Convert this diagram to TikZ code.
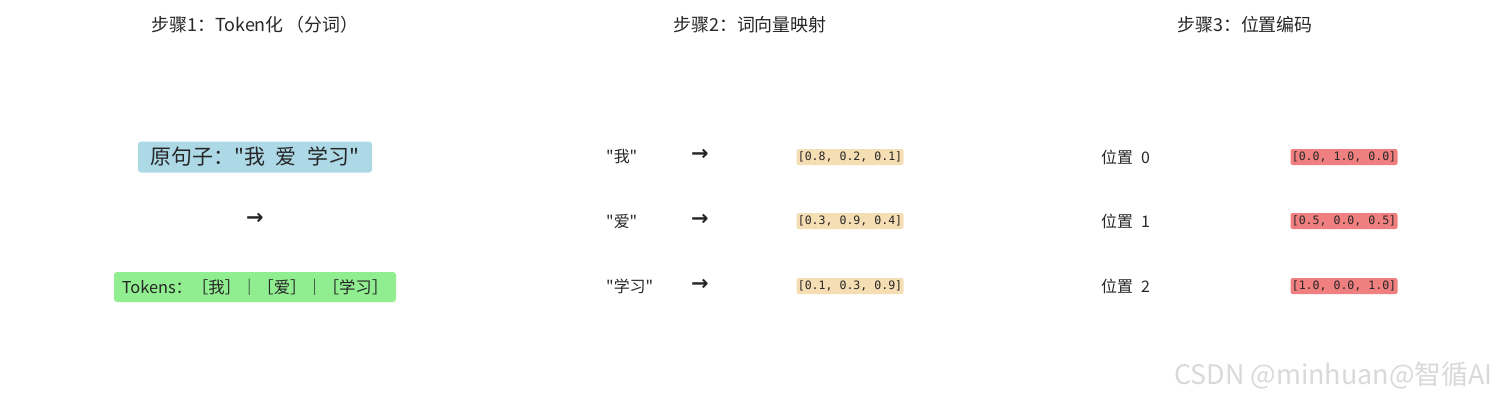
\documentclass[tikz,border=0pt]{standalone}
\usepackage{fontspec}
\usepackage{xcolor}
\setmainfont{Noto Sans CJK SC}[Ligatures=TeXOff]
\newfontfamily\vecfont{DejaVu Sans Mono}
\newfontfamily\arrfont{DejaVu Sans}
\usetikzlibrary{positioning}

\definecolor{sentblue}{HTML}{ADD8E6}
\definecolor{tokgreen}{HTML}{90EE90}
\definecolor{embwheat}{HTML}{F5DEB3}
\definecolor{poscoral}{HTML}{F08080}
\definecolor{ink}{HTML}{262626}

\newcommand{\gap}{\hspace{0.5em}}

\begin{document}
\begin{tikzpicture}[x=1bp, y=-1bp,
    head/.style={font=\fontsize{18}{21}\selectfont, text=ink},
    sentbox/.style={rectangle, rounded corners=3bp, fill=sentblue, minimum width=234bp, minimum height=31bp, inner xsep=4bp, font=\fontsize{21}{24}\selectfont, text=ink},
    tokbox/.style={rectangle, rounded corners=3bp, fill=tokgreen, minimum width=282bp, minimum height=30bp, inner xsep=4bp, font=\fontsize{16.4}{19}\selectfont, text=ink},
    word/.style={anchor=west, inner sep=0pt, font=\fontsize{16}{19}\selectfont, text=ink},
    vec/.style={rectangle, rounded corners=2bp, minimum width=107bp, minimum height=16bp, inner sep=1bp, font=\vecfont\fontsize{11.6}{13}\selectfont, text=ink},
    arr/.style={inner sep=0pt, font=\arrfont\bfseries\fontsize{21}{23}\selectfont, text=ink}]

\useasboundingbox (0,0) rectangle (1500,400);

% Step titles
\node[head] (t1) at (255,25) {步骤1：Token化\,（分词）};
\node[head] (t2) at (750,25) {步骤2：词向量映射};
\node[head] (t3) at (1245,25) {步骤3：位置编码};

% Step 1: tokenization
\node[sentbox] (s) at (255,157) {原句子："我\gap 爱\gap 学习"};
\node[arr] (a0) at (255,219) {→};
\node[tokbox] (tk) at (255,287) {Tokens：［我］｜［爱］｜［学习］};

% Step 2: embedding lookup
\node[word] (w1) at (606,157) {"我"};
\node[word] (w2) at (606,221) {"爱"};
\node[word] (w3) at (606,286) {"学习"};
\node[arr] (a1) at (700,155) {→};
\node[arr] (a2) at (700,220) {→};
\node[arr] (a3) at (700,285) {→};
\node[vec, fill=embwheat] (e1) at (850,157) {[0.8, 0.2, 0.1]};
\node[vec, fill=embwheat] (e2) at (850,221) {[0.3, 0.9, 0.4]};
\node[vec, fill=embwheat] (e3) at (850,286) {[0.1, 0.3, 0.9]};

% Step 3: positional encoding
\node[word] (p0) at (1101,157) {位置\gap 0};
\node[word] (p1) at (1101,221) {位置\gap 1};
\node[word] (p2) at (1101,286) {位置\gap 2};
\node[vec, fill=poscoral] (v0) at (1344,157) {[0.0, 1.0, 0.0]};
\node[vec, fill=poscoral] (v1) at (1344,221) {[0.5, 0.0, 0.5]};
\node[vec, fill=poscoral] (v2) at (1344,286) {[1.0, 0.0, 1.0]};

% watermark
\node[anchor=east, text=gray!30, font=\fontsize{27}{30}\selectfont] (wm) at (1496,375) {CSDN @minhuan@智循AI};

\end{tikzpicture}
\end{document}
